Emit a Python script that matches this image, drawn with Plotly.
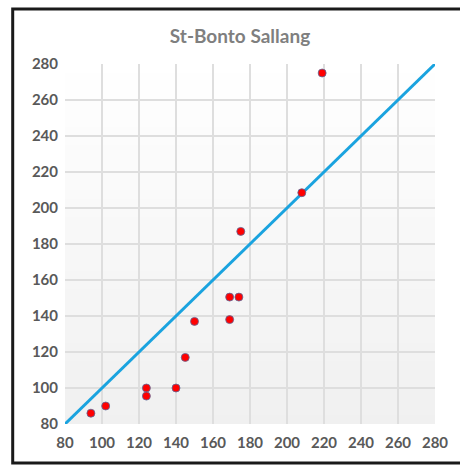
import plotly.graph_objects as go

obs_x = [94, 102, 124, 124, 140, 145, 150, 169, 169, 174, 175, 208, 219]
obs_y = [86, 90, 100, 95.5, 100, 117, 137, 138, 150.5, 150.5, 187, 208.5, 275]
line_x = [80, 280]
line_y = [80, 280]
ticks = [80, 100, 120, 140, 160, 180, 200, 220, 240, 260, 280]
title = "St-Bonto Sallang"

fig = go.Figure()
fig.add_trace(go.Scatter(x=line_x, y=line_y, mode="lines",
                         line=dict(color="#1AA3DF", width=3), hoverinfo="skip"))
fig.add_trace(go.Scatter(x=obs_x, y=obs_y, mode="markers",
                         marker=dict(color="#FF0000", size=8,
                                     line=dict(color="#5A6A9A", width=0.8))))

L, R, T, B = 65, 20, 64, 42
W, H = 460, 466
pw, ph = W - L - R, H - T - B

def px(x):
    return (x - L) / pw

def py(y):
    return (H - B - y) / ph

# vertical gradient background (white at top -> light gray at bottom)
n_strips = 40
for i in range(n_strips):
    frac = (i + 0.5) / n_strips  # 0 at bottom
    v = int(round(240 + 15 * frac))
    fig.add_shape(type="rect", xref="paper", yref="paper",
                  x0=0, x1=1, y0=i / n_strips, y1=(i + 1) / n_strips + 0.002,
                  line=dict(width=0), fillcolor=f"rgb({v},{v},{v})", layer="below")

fig.add_shape(type="rect", xref="paper", yref="paper",
              x0=px(12), x1=px(475), y0=py(463), y1=py(9),
              line=dict(color="#1a1a1a", width=3), fillcolor="rgba(0,0,0,0)",
              layer="above")

axis_common = dict(range=[80, 280], tickvals=ticks, showgrid=True,
                   gridcolor="#DEDEDE", gridwidth=1.5, zeroline=False,
                   showline=False, ticks="",
                   tickfont=dict(family="Lato", size=15, color="#595959", weight="bold"))
fig.update_xaxes(ticklabelstandoff=8, **axis_common)
fig.update_yaxes(ticklabelstandoff=6, **axis_common)

fig.update_layout(
    width=W, height=H,
    autosize=False,
    margin=dict(l=L, r=R, t=T, b=B),
    paper_bgcolor="white",
    plot_bgcolor="white",
    showlegend=False,
    title=dict(text=title, x=240 / W, xanchor="center", y=1 - 36 / H, yanchor="middle",
               font=dict(family="Lato", size=19, color="#7F7F7F", weight="bold")),
)

fig.write_html("out.html",
               config=dict(displayModeBar=False, responsive=False),
               post_script="document.body.style.margin='0';document.body.style.padding='0';"
                           "document.body.style.overflow='hidden';"
                           "document.documentElement.style.overflow='hidden';")
